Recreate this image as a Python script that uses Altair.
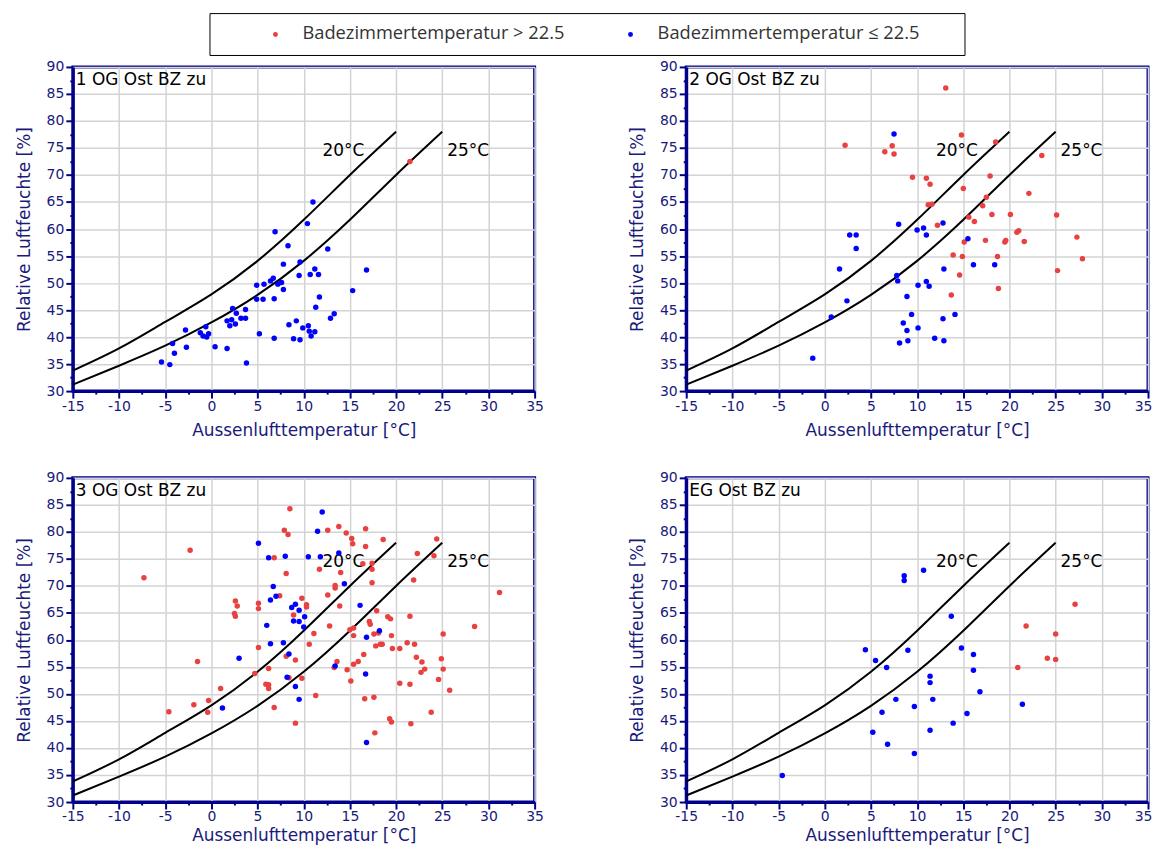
import altair as alt
import pandas as pd

# ---------------- colours / labels ----------------
RED = "#e8413f"
BLUE = "#0000ff"
NAVY = "#00008b"
TXT = "#1a1a7a"
LAB_R = "Badezimmertemperatur > 22.5"
LAB_B = "Badezimmertemperatur ≤ 22.5"

# ---------------- axis ticks ----------------
x_ticks = [-15, -12.5, -10, -7.5, -5, -2.5, 0, 2.5, 5, 7.5, 10, 12.5, 15, 17.5,
           20, 22.5, 25, 27.5, 30, 32.5, 35]
y_ticks = [30, 32.5, 35, 37.5, 40, 42.5, 45, 47.5, 50, 52.5, 55, 57.5, 60, 62.5,
           65, 67.5, 70, 72.5, 75, 77.5, 80, 82.5, 85, 87.5, 90]

# ---------------- reference curves (20 °C / 25 °C) ----------------
c20_T = [-15, -10, -5, 0, 5, 10, 15, 20]
c20_RH = [33.8, 37.9, 42.8, 47.9, 54.1, 61.7, 70.0, 78.0]
c25_T = [-15, -10, -5, 0, 5, 10, 15, 20, 25]
c25_RH = [31.2, 34.7, 38.4, 42.7, 47.8, 54.1, 61.7, 70.0, 78.0]
curve_lab_T = [14.3, 27.8]
curve_lab_RH = [74.5, 74.5]
curve_lab_txt = ["20°C", "25°C"]

# ---------------- panel 1: 1 OG Ost BZ zu ----------------
p1_red_T = [21.5]
p1_red_RH = [72.5]
p1_blue_T = [-5.4, -4.5, -4.2, -4.0, -2.8, -2.7, -1.2, -0.9, -0.6, -0.5, -0.3, 0.4,
             1.7, 1.7, 2.0, 2.2, 2.3, 2.6, 2.7, 3.2, 3.7, 3.7, 3.8, 4.9, 4.9, 5.2,
             5.6, 5.7, 6.4, 6.7, 6.8, 6.8, 6.9, 7.2, 7.6, 7.8, 7.8, 8.3, 8.4, 8.9,
             9.2, 9.5, 9.6, 9.6, 9.9, 10.4, 10.5, 10.6, 10.7, 10.8, 11.0, 11.2,
             11.3, 11.2, 11.6, 11.7, 12.6, 12.9, 13.3, 15.3, 16.8]
p1_blue_RH = [35.4, 34.9, 38.8, 37.0, 41.3, 38.1, 40.8, 40.2, 41.9, 40.0, 40.6, 38.2,
              37.9, 43.0, 42.1, 43.2, 45.3, 42.4, 44.4, 43.5, 45.1, 43.5, 35.2, 49.6,
              47.0, 40.6, 47.0, 49.8, 50.4, 50.9, 39.8, 47.1, 59.5, 49.8, 50.1, 53.5,
              48.8, 56.9, 42.3, 39.7, 43.0, 51.4, 53.9, 39.5, 41.7, 61.0, 42.1, 41.1,
              51.6, 40.2, 65.0, 52.6, 45.5, 41.0, 51.6, 47.4, 56.3, 43.5, 44.3, 48.6,
              52.4]

# ---------------- panel 2: 2 OG Ost BZ zu ----------------
p2_red_T = [2.2, 6.5, 7.3, 7.5, 9.5, 11.0, 11.4, 11.2, 11.6, 12.2, 13.1, 14.8, 15.0,
            15.1, 13.9, 14.9, 14.6, 13.7, 15.6, 16.2, 17.4, 17.1, 17.5, 17.9, 18.1,
            18.5, 18.7, 18.8, 19.5, 19.6, 20.1, 20.8, 21.0, 21.6, 22.1, 23.5, 25.1,
            27.3, 27.9, 25.2]
p2_red_RH = [75.5, 74.3, 75.4, 73.9, 69.6, 69.4, 68.3, 64.5, 64.6, 60.7, 86.1, 77.4,
             67.5, 57.6, 55.2, 54.9, 51.5, 47.8, 62.2, 61.4, 57.9, 64.3, 65.9, 69.8,
             62.7, 76.1, 54.9, 49.0, 57.6, 57.9, 62.7, 59.4, 59.7, 57.7, 66.6, 73.6,
             62.6, 58.5, 54.5, 52.3]
p2_blue_T = [-1.3, 0.7, 1.6, 2.4, 2.7, 3.4, 3.4, 7.5, 7.8, 7.9, 8.0, 8.1, 8.5, 8.9,
             8.9, 9.0, 9.4, 10.0, 10.1, 10.1, 10.7, 11.0, 11.0, 11.3, 11.9, 12.8,
             12.9, 12.8, 12.9, 14.1, 15.5, 16.1, 18.4]
p2_blue_RH = [36.1, 43.7, 52.6, 46.7, 58.9, 58.9, 56.4, 77.6, 51.4, 50.4, 60.9, 38.9,
              42.6, 47.5, 41.2, 39.3, 44.2, 59.8, 41.7, 49.6, 60.2, 58.9, 50.3, 49.4,
              39.8, 61.1, 52.6, 43.4, 39.3, 44.2, 58.2, 53.4, 53.4]

# ---------------- panel 3: 3 OG Ost BZ zu ----------------
p3_red_T = [-7.3, -4.6, -2.3, -1.9, -1.5, -0.4, -0.3, 1.0, 2.6, 2.8, 2.5, 2.6, 4.7,
            5.1, 5.1, 5.1, 5.9, 6.2, 6.2, 6.2, 6.8, 6.8, 7.4, 7.9, 8.3, 8.1, 8.5,
            8.1, 8.4, 8.9, 9.1, 9.1, 9.8, 9.8, 10.3, 10.3, 10.6, 11.1, 11.3, 11.7,
            12.6, 12.6, 12.8, 13.3, 13.6, 13.4, 13.4, 13.9, 13.8, 14.0, 14.6, 14.7,
            15.1, 15.2, 15.3, 15.0, 15.4, 15.4, 15.4, 15.9, 16.4, 16.5, 16.6, 16.7,
            16.7, 17.1, 17.2, 17.4, 17.4, 17.4, 17.6, 17.7, 17.6, 17.8, 17.9, 18.1,
            18.3, 18.5, 18.6, 19.1, 19.4, 19.3, 19.5, 19.5, 19.6, 20.4, 20.4, 21.2,
            21.5, 21.5, 21.6, 21.9, 22.0, 22.2, 22.3, 24.4, 24.1, 31.2, 28.5, 25.1,
            22.8, 24.9, 23.1, 22.7, 25.1, 24.6, 25.8, 23.8]
p3_red_RH = [71.5, 46.7, 76.6, 48.0, 56.0, 46.6, 48.8, 51.0, 67.2, 66.3, 64.9, 64.4,
             53.8, 58.6, 65.8, 66.8, 51.8, 51.7, 51.0, 54.7, 75.2, 47.5, 68.2, 80.3,
             79.5, 72.3, 84.3, 57.0, 53.0, 64.6, 56.3, 44.6, 52.9, 67.7, 66.5, 66.1,
             59.2, 61.2, 49.7, 73.1, 80.3, 68.3, 62.6, 54.9, 56.0, 70.1, 69.6, 66.3,
             81.0, 72.5, 79.8, 54.5, 52.4, 78.8, 77.8, 61.9, 62.2, 60.8, 55.5, 56.0,
             74.1, 57.3, 49.1, 80.6, 77.3, 63.4, 62.9, 74.2, 73.1, 70.6, 49.4, 42.8,
             61.1, 58.9, 65.4, 61.3, 59.2, 59.2, 78.6, 64.3, 63.9, 45.4, 44.8, 60.8,
             58.4, 58.4, 52.0, 59.5, 51.8, 64.4, 44.5, 71.1, 59.2, 56.8, 76.0, 78.7,
             75.6, 68.8, 62.5, 61.1, 55.9, 56.5, 54.6, 54.0, 54.6, 52.7, 50.7, 46.6]
p3_blue_T = [1.2, 3.0, 5.1, 6.0, 6.2, 6.4, 6.4, 6.7, 7.0, 7.8, 8.0, 8.2, 8.4, 8.7,
             8.9, 9.1, 9.1, 9.5, 9.5, 9.5, 10.0, 10.1, 10.5, 11.5, 11.8, 12.0, 13.4,
             13.8, 14.4, 16.1, 16.7, 16.8, 16.8, 18.2]
p3_blue_RH = [47.4, 56.6, 77.9, 62.7, 75.2, 67.4, 59.3, 69.9, 68.1, 59.5, 75.5, 53.1,
              57.4, 66.0, 63.5, 66.6, 51.4, 65.5, 49.0, 63.4, 62.4, 64.3, 75.4, 80.1,
              75.4, 83.7, 55.2, 76.1, 70.4, 66.4, 53.7, 60.5, 41.0, 61.7]

# ---------------- panel 4: EG Ost BZ zu ----------------
p4_red_T = [20.9, 21.8, 27.1, 25.0, 24.1, 25.0]
p4_red_RH = [54.9, 62.6, 66.6, 61.1, 56.6, 56.4]
p4_blue_T = [-4.6, 4.4, 5.2, 5.5, 6.2, 6.7, 6.8, 7.7, 8.6, 8.6, 9.0, 9.7, 9.7, 10.7,
             11.4, 11.4, 11.4, 11.7, 13.7, 13.9, 14.8, 15.4, 16.1, 16.1, 16.8, 21.4]
p4_blue_RH = [34.9, 58.2, 42.9, 56.2, 46.6, 54.9, 40.7, 49.0, 71.9, 71.0, 58.1, 47.7,
              39.0, 72.9, 53.3, 52.1, 43.3, 49.0, 64.4, 44.6, 58.5, 46.4, 57.3, 54.4,
              50.4, 48.1]

# ---------------- shared encodings ----------------
minor = "datum.value % 5 !== 0"
xscale = alt.Scale(domain=[-15, 35], nice=False, zero=False)
yscale = alt.Scale(domain=[30, 90], nice=False, zero=False)


def make_xaxis(right_col, title_pad):
    off = {"condition": {"test": "datum.value === 35", "value": -5}, "value": 0} if right_col else 0
    return alt.Axis(
        title="Aussenlufttemperatur [°C]", values=x_ticks,
        labelExpr="datum.value % 5 === 0 ? '' + datum.value : ''",
        tickSize={"condition": {"test": minor, "value": 3}, "value": 7},
        gridOpacity={"condition": {"test": minor, "value": 0}, "value": 1},
        labelOffset=off,
        labelPadding=1, titlePadding=title_pad, labelFlush=False, labelOverlap=False,
    )


yaxis = alt.Axis(
    title="Relative Luftfeuchte [%]", values=y_ticks,
    labelExpr="datum.value % 5 === 0 ? '' + datum.value : ''",
    tickSize={"condition": {"test": minor, "value": 3}, "value": 7},
    gridOpacity={"condition": {"test": minor, "value": 0}, "value": 1},
    labelPadding=2, titlePadding=13, labelFlush=False, labelOverlap=False,
)
legend = alt.Legend(
    title=".", titleOrient="right", titleColor="white", titleFontSize=8,
    titlePadding=30,
    orient="none", legendX=137, legendY=-54, direction="horizontal",
    strokeColor="black", padding=12, symbolType="circle", symbolSize=24,
    symbolOffset=45, labelOffset=18, columnPadding=12, labelFont="Open Sans",
    labelFontSize=18.3, labelColor="#333333", labelLimit=500,
)
color = alt.Color("cat:N", scale=alt.Scale(domain=[LAB_R, LAB_B], range=[RED, BLUE]),
                  legend=legend)

curves_df = pd.DataFrame({
    "T": c20_T + c25_T,
    "RH": c20_RH + c25_RH,
    "curve": ["20"] * len(c20_T) + ["25"] * len(c25_T),
})
labels_df = pd.DataFrame({"T": curve_lab_T, "RH": curve_lab_RH, "txt": curve_lab_txt})


def panel(title, rT, rRH, bT, bRH, right_col, title_pad):
    pts = pd.DataFrame({
        "T": rT + bT,
        "RH": rRH + bRH,
        "cat": [LAB_R] * len(rT) + [LAB_B] * len(bT),
    })
    x = alt.X("T:Q", scale=xscale, axis=make_xaxis(right_col, title_pad))
    y = alt.Y("RH:Q", scale=yscale, axis=yaxis)
    lines = alt.Chart(curves_df).mark_line(
        color="black", strokeWidth=2, interpolate="natural"
    ).encode(x=x, y=y, detail="curve:N")
    labs = alt.Chart(labels_df).mark_text(
        font="DejaVu Sans", fontSize=17, color="black"
    ).encode(x=x, y=y, text="txt:N")
    dots = alt.Chart(pts).mark_circle(size=30, opacity=1).encode(
        x=x, y=y, color=color
    )
    ttl = alt.Chart(pd.DataFrame({"t": [title]})).mark_text(
        align="left", baseline="top", font="DejaVu Sans", fontSize=17, color="black"
    ).encode(x=alt.value(3), y=alt.value(5), text="t:N")
    return alt.layer(lines, labs, dots, ttl).properties(width=463, height=325)


chart = alt.concat(
    panel("1 OG Ost BZ zu", p1_red_T, p1_red_RH, p1_blue_T, p1_blue_RH, False, 10),
    panel("2 OG Ost BZ zu", p2_red_T, p2_red_RH, p2_blue_T, p2_blue_RH, True, 10),
    panel("3 OG Ost BZ zu", p3_red_T, p3_red_RH, p3_blue_T, p3_blue_RH, False, 4),
    panel("EG Ost BZ zu", p4_red_T, p4_red_RH, p4_blue_T, p4_blue_RH, True, 4),
    columns=2,
).properties(
    spacing={"row": 87, "column": 152},
    bounds="flush",
    padding={"left": 5, "top": 3, "right": 0, "bottom": 0},
    background="white",
).configure_view(
    stroke=NAVY, strokeWidth=3
).configure_axis(
    domainColor=NAVY, domainWidth=3, tickColor=NAVY, tickWidth=2,
    labelFont="DejaVu Sans", labelFontSize=14, labelColor=TXT,
    titleFont="DejaVu Sans", titleFontSize=17, titleFontWeight="normal",
    titleColor=TXT, gridColor="#d3d3d3", gridWidth=1.5,
)

chart.save("out.html", embed_options={"renderer": "svg", "actions": False})
